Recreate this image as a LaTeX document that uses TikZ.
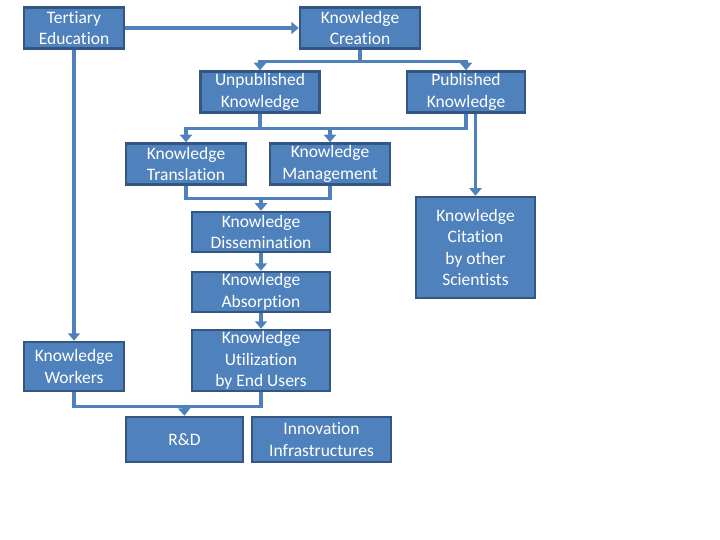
\documentclass[tikz,border=0pt]{standalone}
\usepackage{fontspec}
\setmainfont{Carlito}[Ligatures=NoCommon]
\usetikzlibrary{arrows.meta}
\definecolor{boxfill}{RGB}{79,129,189}
\definecolor{boxline}{RGB}{52,86,128}
\definecolor{conn}{RGB}{79,129,189}
\begin{document}
\begin{tikzpicture}[x=1pt,y=-1pt,
  box/.style={draw=boxline,line width=2.5pt,fill=boxfill,text=white,align=center,
    inner sep=0pt,font=\fontsize{17.5}{21.5}\selectfont},
  conline/.style={draw=conn,line width=3.5pt},
  arr/.style={conline,-{Triangle[width=12pt,length=7.5pt]}}]
\useasboundingbox[fill=white] (0,0) rectangle (720,540);
% nodes
\node[box,minimum width=100pt,minimum height=41pt] (tert) at (74,28) {Tertiary\\Education};
\node[box,minimum width=120pt,minimum height=41pt] (kc) at (360,28) {Knowledge\\Creation};
\node[box,minimum width=119pt,minimum height=41pt] (unp) at (260,92) {Unpublished\\Knowledge};
\node[box,minimum width=118pt,minimum height=41pt] (pub) at (466,92) {Published\\Knowledge};
\node[box,minimum width=120pt,minimum height=41pt] (tra) at (186,164) {Knowledge\\Translation};
\node[box,minimum width=120pt,minimum height=41pt] (man) at (330,164) {Knowledge\\Management};
\node[box,minimum width=138pt,minimum height=40pt] (dis) at (261,232) {Knowledge\\Dissemination};
\node[box,minimum width=138pt,minimum height=40pt] (abs) at (261,292) {Knowledge\\Absorption};
\node[box,minimum width=138pt,minimum height=61pt] (util) at (261,360.5) {Knowledge\\Utilization\\by End Users};
\node[box,minimum width=100pt,minimum height=49pt] (kw) at (74,366.5) {Knowledge\\Workers};
\node[box,minimum width=117pt,minimum height=45pt] (rd) at (184.5,439.5) {R\&D};
\node[box,minimum width=139pt,minimum height=45pt] (inf) at (321.5,439.5) {Innovation\\Infrastructures};
\node[box,minimum width=119pt,minimum height=101pt] (cit) at (475.5,247.5) {Knowledge\\Citation\\by other\\Scientists};
% junction points
\coordinate (m1) at (261,197);
\coordinate (m2) at (184,405);
% connectors
\draw[arr] (tert.east) -- (kc.west);
\draw[arr] (tert.south) -- (kw.north);
\draw[arr] (kc.south) -- ++(0,12) -| (unp.north);
\draw[arr] (kc.south) -- ++(0,12) -| (pub.north);
\draw[arr] (unp.south) -- ++(0,15) -| (tra.north);
\draw[arr] (unp.south) -- ++(0,15) -| (man.north);
\draw[conline] (pub.south) -- ++(0,15) -| (unp.south);
\draw[arr] (pub.south -| cit.north) -- (cit.north);
\draw[conline] (tra.south) -- ++(0,13) -| (man.south);
\draw[arr] (m1) -- (dis.north);
\draw[arr] (dis.south) -- (abs.north);
\draw[arr] (abs.south) -- (util.north);
\draw[conline] (kw.south) -- ++(0,14) -| (util.south);
\draw[arr] (m2) -- (rd.north);
\end{tikzpicture}
\end{document}
